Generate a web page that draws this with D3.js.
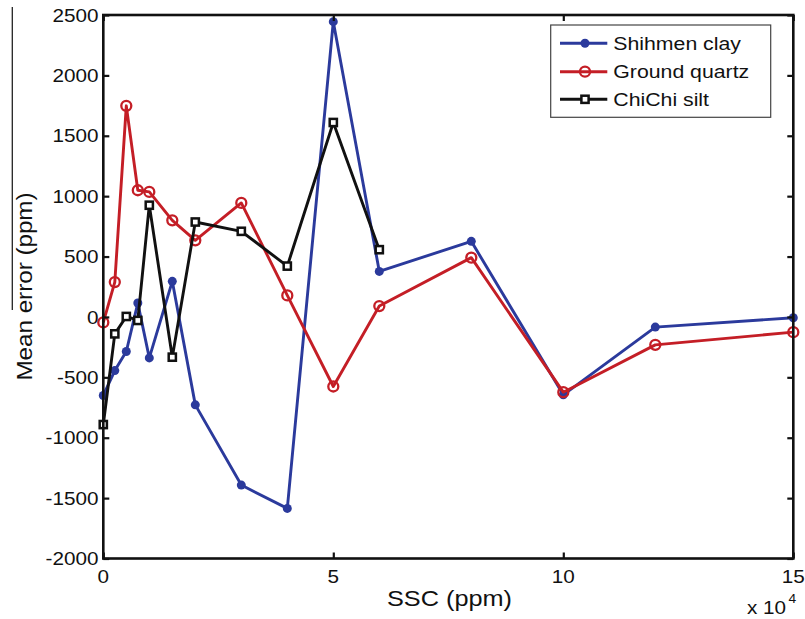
<!DOCTYPE html>
<html>
<head>
<meta charset="utf-8">
<script src="https://cdn.jsdelivr.net/npm/d3@7"></script>
<style>
  html, body { margin: 0; padding: 0; background: #fff; }
  svg { display: block; }
  text { font-family: "Liberation Sans", Arial, Helvetica, sans-serif; fill: #111; }
</style>
</head>
<body>
<svg id="chart" width="805" height="619"></svg>
<script>
// SSC values (ppm) at which the mean error was measured
const sscAll = [0, 2500, 5000, 7500, 10000, 15000, 20000, 30000, 40000, 50000, 60000, 80000, 100000, 120000, 150000];
const sscChiChi = [0, 2500, 5000, 7500, 10000, 15000, 20000, 30000, 40000, 50000, 60000];

// Mean error (ppm) per sediment
const shihmenClay = [-650, -444, -286, 115, -339, 295, -728, -1392, -1585, 2445, 377, 626, -645, -84, -7];
const groundQuartz = [-45, 289, 1748, 1049, 1035, 800, 634, 944, 178, -576, 90, 491, -623, -231, -126];
const chichiSilt = [-891, -140, 4, -29, 925, -333, 786, 709, 421, 1610, 557];

const seriesNames = ["Shihmen clay", "Ground quartz", "ChiChi silt"];

// Axis ticks
const xTicks = [0, 50000, 100000, 150000];
const xTickLabels = ["0", "5", "10", "15"];
const yTicks = [2500, 2000, 1500, 1000, 500, 0, -500, -1000, -1500, -2000];
const yTickLabels = ["2500", "2000", "1500", "1000", "500", "0", "-500", "-1000", "-1500", "-2000"];

const svg = d3.select("#chart");
const plotL = 103.3, plotR = 793.3, plotT = 15, plotB = 558.5;
const stretch = 1.15; // horizontal widening of the lettering

const x = d3.scaleLinear().domain([0, 150000]).range([plotL, plotR]);
const y = d3.scaleLinear().domain([-2000, 2500]).range([plotB, plotT]);

const series = [
  { name: seriesNames[0], xs: sscAll, ys: shihmenClay, color: "#2b3a9c", marker: "dot" },
  { name: seriesNames[1], xs: sscAll, ys: groundQuartz, color: "#c41e26", marker: "ring" },
  { name: seriesNames[2], xs: sscChiChi, ys: chichiSilt, color: "#111111", marker: "square" }
];

function drawMarker(g, cx, cy, s) {
  if (s.marker === "dot") {
    g.append("circle").attr("cx", cx).attr("cy", cy).attr("r", 4.5).attr("fill", s.color);
  } else if (s.marker === "ring") {
    g.append("circle").attr("cx", cx).attr("cy", cy).attr("r", 5)
      .attr("fill", "none").attr("stroke", s.color).attr("stroke-width", 2.3);
  } else {
    g.append("rect").attr("x", cx - 3.6).attr("y", cy - 3.6).attr("width", 7.2).attr("height", 7.2)
      .attr("fill", "#fff").attr("stroke", s.color).attr("stroke-width", 2.5);
  }
}

// Series lines and markers
const line = d3.line().x(d => x(d[0])).y(d => y(d[1]));
series.forEach(s => {
  const pts = s.xs.map((v, i) => [v, s.ys[i]]);
  const g = svg.append("g");
  g.append("path").datum(pts).attr("d", line)
    .attr("fill", "none").attr("stroke", s.color).attr("stroke-width", 2.9)
    .attr("stroke-linejoin", "round");
  pts.forEach(p => drawMarker(g, x(p[0]), y(p[1]), s));
});

// Axes: inward ticks on all four sides, frame box
const tickLen = 6;
const axG = svg.append("g");
const xAxisB = d3.axisBottom(x).tickValues(xTicks).tickSizeInner(-tickLen).tickSizeOuter(0).tickFormat(() => "");
const xAxisT = d3.axisTop(x).tickValues(xTicks).tickSizeInner(-tickLen).tickSizeOuter(0).tickFormat(() => "");
const yAxisL = d3.axisLeft(y).tickValues(yTicks).tickSizeInner(-tickLen).tickSizeOuter(0).tickFormat(() => "");
const yAxisR = d3.axisRight(y).tickValues(yTicks).tickSizeInner(-tickLen).tickSizeOuter(0).tickFormat(() => "");
[[xAxisB, `translate(0,${plotB})`], [xAxisT, `translate(0,${plotT})`],
 [yAxisL, `translate(${plotL},0)`], [yAxisR, `translate(${plotR},0)`]].forEach(([ax, tr]) => {
  const g = axG.append("g").attr("transform", tr).call(ax);
  g.select(".domain").remove();
  g.selectAll(".tick line").attr("stroke", "#111").attr("stroke-width", 2.2);
});
svg.append("rect").attr("x", plotL).attr("y", plotT).attr("width", plotR - plotL).attr("height", plotB - plotT)
  .attr("fill", "none").attr("stroke", "#111").attr("stroke-width", 2.6);

function label(txt, px, py, size, anchor) {
  return svg.append("text")
    .attr("transform", `translate(${px},${py}) scale(${stretch},1)`)
    .attr("text-anchor", anchor).attr("font-size", size).text(txt);
}

// Tick labels
xTicks.forEach((v, i) => label(xTickLabels[i], x(v), 582.5, 18, "middle"));
yTicks.forEach((v, i) => label(yTickLabels[i], 98.5, y(v) + 6.6, 18, "end"));

// Exponent note
label("x 10", 786, 614, 18, "end");
label("4", 788.5, 603, 12, "start");

// Axis titles
label("SSC (ppm)", 449.5, 605.7, 22, "middle");
svg.append("text")
  .attr("transform", `translate(31.5,286.5) rotate(-90) scale(1.1,1)`)
  .attr("text-anchor", "middle").attr("font-size", 22).text("Mean error (ppm)");
svg.append("line").attr("x1", 12.3).attr("x2", 12.3).attr("y1", 7).attr("y2", 310)
  .attr("stroke", "#222").attr("stroke-width", 1.3);

// Legend
const lg = svg.append("g");
lg.append("rect").attr("x", 550.7).attr("y", 25).attr("width", 220).attr("height", 92.3)
  .attr("fill", "#fff").attr("stroke", "#444").attr("stroke-width", 1.2);
const rowY = [43.3, 71.7, 99.3];
series.forEach((s, i) => {
  lg.append("line").attr("x1", 560).attr("x2", 607.3).attr("y1", rowY[i]).attr("y2", rowY[i])
    .attr("stroke", s.color).attr("stroke-width", 2.9);
  drawMarker(lg, 585, rowY[i], s);
  label(s.name, 613.3, rowY[i] + 6.7, 18.5, "start");
});
</script>
</body>
</html>
